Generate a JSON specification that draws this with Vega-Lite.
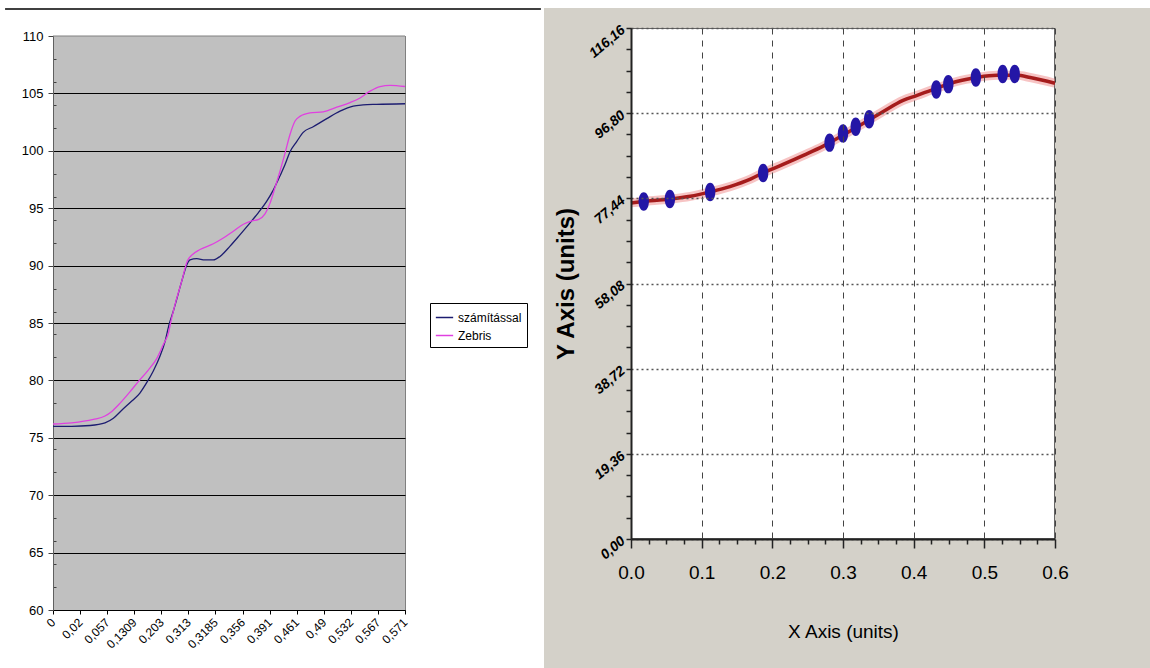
{
  "$schema": "https://vega.github.io/schema/vega-lite/v6.json",
  "background": "white",
  "autosize": {"type": "pad"},
  "padding": {"left": 3, "top": 7, "right": 0, "bottom": 0},
  "spacing": 0,
  "datasets": {
    "excel": [
      {"s": "számítással", "i": 0, "v": 76.0},
      {"s": "számítással", "i": 0.69, "v": 76.0},
      {"s": "számítással", "i": 1.37, "v": 76.07},
      {"s": "számítással", "i": 1.92, "v": 76.3},
      {"s": "számítással", "i": 2.23, "v": 76.7},
      {"s": "számítással", "i": 2.54, "v": 77.4},
      {"s": "számítással", "i": 2.91, "v": 78.2},
      {"s": "számítással", "i": 3.21, "v": 78.9},
      {"s": "számítással", "i": 3.46, "v": 79.8},
      {"s": "számítással", "i": 3.7, "v": 80.8},
      {"s": "számítással", "i": 3.95, "v": 82.1},
      {"s": "számítással", "i": 4.14, "v": 83.4},
      {"s": "számítással", "i": 4.29, "v": 84.9},
      {"s": "számítással", "i": 4.44, "v": 86.0},
      {"s": "számítással", "i": 4.56, "v": 87.0},
      {"s": "számítással", "i": 4.75, "v": 88.6},
      {"s": "számítással", "i": 4.94, "v": 90.06},
      {"s": "számítással", "i": 5.06, "v": 90.5},
      {"s": "számítással", "i": 5.31, "v": 90.6},
      {"s": "számítással", "i": 5.61, "v": 90.5},
      {"s": "számítással", "i": 5.92, "v": 90.5},
      {"s": "számítással", "i": 6.17, "v": 90.8},
      {"s": "számítással", "i": 6.54, "v": 91.7},
      {"s": "számítással", "i": 6.91, "v": 92.7},
      {"s": "számítással", "i": 7.27, "v": 93.7},
      {"s": "számítással", "i": 7.58, "v": 94.6},
      {"s": "számítással", "i": 7.89, "v": 95.6},
      {"s": "számítással", "i": 8.14, "v": 96.6},
      {"s": "számítással", "i": 8.38, "v": 97.8},
      {"s": "számítással", "i": 8.57, "v": 98.8},
      {"s": "számítással", "i": 8.75, "v": 99.9},
      {"s": "számítással", "i": 9.0, "v": 100.8},
      {"s": "számítással", "i": 9.24, "v": 101.6},
      {"s": "számítással", "i": 9.61, "v": 102.1},
      {"s": "számítással", "i": 10.11, "v": 102.8},
      {"s": "számítással", "i": 10.6, "v": 103.45},
      {"s": "számítással", "i": 11.09, "v": 103.9},
      {"s": "számítással", "i": 11.45, "v": 104.0},
      {"s": "számítással", "i": 11.95, "v": 104.05},
      {"s": "számítással", "i": 13.0, "v": 104.1},
      {"s": "Zebris", "i": 0, "v": 76.2},
      {"s": "Zebris", "i": 0.69, "v": 76.3},
      {"s": "Zebris", "i": 1.49, "v": 76.6},
      {"s": "Zebris", "i": 1.92, "v": 76.9},
      {"s": "Zebris", "i": 2.17, "v": 77.3},
      {"s": "Zebris", "i": 2.47, "v": 78.0},
      {"s": "Zebris", "i": 2.84, "v": 79.0},
      {"s": "Zebris", "i": 3.15, "v": 79.9},
      {"s": "Zebris", "i": 3.52, "v": 80.9},
      {"s": "Zebris", "i": 3.83, "v": 81.9},
      {"s": "Zebris", "i": 4.07, "v": 83.1},
      {"s": "Zebris", "i": 4.26, "v": 84.1},
      {"s": "Zebris", "i": 4.38, "v": 85.4},
      {"s": "Zebris", "i": 4.54, "v": 86.9},
      {"s": "Zebris", "i": 4.75, "v": 88.6},
      {"s": "Zebris", "i": 4.96, "v": 90.4},
      {"s": "Zebris", "i": 5.12, "v": 90.9},
      {"s": "Zebris", "i": 5.43, "v": 91.4},
      {"s": "Zebris", "i": 5.92, "v": 91.9},
      {"s": "Zebris", "i": 6.29, "v": 92.4},
      {"s": "Zebris", "i": 6.66, "v": 93.0},
      {"s": "Zebris", "i": 7.03, "v": 93.6},
      {"s": "Zebris", "i": 7.34, "v": 93.9},
      {"s": "Zebris", "i": 7.58, "v": 94.0},
      {"s": "Zebris", "i": 7.83, "v": 94.5},
      {"s": "Zebris", "i": 8.01, "v": 95.4},
      {"s": "Zebris", "i": 8.2, "v": 96.8},
      {"s": "Zebris", "i": 8.38, "v": 98.2},
      {"s": "Zebris", "i": 8.57, "v": 99.8},
      {"s": "Zebris", "i": 8.75, "v": 101.4},
      {"s": "Zebris", "i": 8.94, "v": 102.6},
      {"s": "Zebris", "i": 9.12, "v": 103.0},
      {"s": "Zebris", "i": 9.49, "v": 103.3},
      {"s": "Zebris", "i": 9.98, "v": 103.4},
      {"s": "Zebris", "i": 10.48, "v": 103.8},
      {"s": "Zebris", "i": 10.97, "v": 104.2},
      {"s": "Zebris", "i": 11.34, "v": 104.6},
      {"s": "Zebris", "i": 11.71, "v": 105.2},
      {"s": "Zebris", "i": 12.08, "v": 105.6},
      {"s": "Zebris", "i": 12.45, "v": 105.7},
      {"s": "Zebris", "i": 13.0, "v": 105.6}
    ],
    "fit": [
      {"x": 0, "y": 76.4}, {"x": 0.027, "y": 76.9}, {"x": 0.056, "y": 77.3},
      {"x": 0.084, "y": 77.9}, {"x": 0.112, "y": 78.9}, {"x": 0.14, "y": 80.1},
      {"x": 0.169, "y": 81.8}, {"x": 0.188, "y": 83.3}, {"x": 0.216, "y": 85.2},
      {"x": 0.244, "y": 87.2}, {"x": 0.272, "y": 89.3}, {"x": 0.301, "y": 91.9},
      {"x": 0.329, "y": 94.5}, {"x": 0.357, "y": 97.2}, {"x": 0.385, "y": 99.7},
      {"x": 0.404, "y": 100.8}, {"x": 0.433, "y": 102.5}, {"x": 0.461, "y": 104.0},
      {"x": 0.489, "y": 104.9}, {"x": 0.518, "y": 105.4}, {"x": 0.546, "y": 105.4},
      {"x": 0.565, "y": 104.9}, {"x": 0.6, "y": 103.6}
    ],
    "pts": [
      {"x": 0.018, "y": 76.7}, {"x": 0.055, "y": 77.3}, {"x": 0.112, "y": 78.9},
      {"x": 0.187, "y": 83.2}, {"x": 0.281, "y": 90.1}, {"x": 0.3, "y": 92.2},
      {"x": 0.318, "y": 93.7}, {"x": 0.337, "y": 95.4}, {"x": 0.432, "y": 102.2},
      {"x": 0.449, "y": 103.4}, {"x": 0.488, "y": 104.9}, {"x": 0.526, "y": 105.7},
      {"x": 0.543, "y": 105.7}
    ]
  },
  "hconcat": [
    {
      "width": 352,
      "height": 582,
      "view": {"fill": "#c0c0c0", "stroke": "#808080", "strokeWidth": 1},
      "layer": [
        {
          "data": {"name": "excel"},
          "mark": {"type": "line", "interpolate": "monotone", "strokeWidth": 1.3},
          "encoding": {
            "x": {
              "field": "i", "type": "quantitative",
              "scale": {"domain": [0, 13], "nice": false, "zero": false},
              "axis": {
                "title": null,
                "values": [0, 1, 2, 3, 4, 5, 6, 7, 8, 9, 10, 11, 12, 13],
                "tickCount": 100,
                "labelExpr": "['0','0,02','0,057','0,1309','0,203','0,313','0,3185','0,356','0,391','0,461','0,49','0,532','0,567','0,571'][datum.value]",
                "labelAngle": -45, "labelAlign": "right", "labelBaseline": "middle",
                "labelPadding": 6, "labelFontSize": 12, "labelFont": "Liberation Sans",
                "labelColor": "black", "labelOverlap": false, "labelFlush": false,
                "tickSize": 4, "tickColor": "black", "domainColor": "black", "grid": false
              }
            },
            "y": {
              "field": "v", "type": "quantitative",
              "scale": {"domain": [60, 110.697], "nice": false, "zero": false},
              "axis": {
                "title": null,
                "values": [60, 62, 64, 65, 66, 68, 70, 72, 74, 75, 76, 78, 80, 82, 84, 85, 86, 88, 90, 92, 94, 95, 96, 98, 100, 102, 104, 105, 106, 108, 110],
                "tickCount": 100,
                "labelExpr": "datum.value % 5 === 0 ? format(datum.value, 'd') : ''",
                "tickSize": {"condition": {"test": "datum.value % 5 === 0", "value": 5}, "value": -3},
                "gridColor": {"condition": {"test": "datum.value % 5 === 0 && datum.value < 110", "value": "black"}, "value": "transparent"},
                "grid": true, "gridWidth": 1,
                "domainColor": "#606060", "tickColor": "#404040",
                "labelFontSize": 13, "labelFont": "Liberation Sans", "labelColor": "black",
                "labelPadding": 5, "labelOverlap": false, "labelFlush": false
              }
            },
            "color": {
              "field": "s", "type": "nominal",
              "scale": {"domain": ["számítással", "Zebris"], "range": ["#1c1c70", "#e040e0"]},
              "legend": {
                "title": null, "orient": "none", "legendX": 377, "legendY": 275,
                "strokeColor": "black", "fillColor": "white", "padding": 5,
                "symbolType": "stroke", "symbolSize": 300, "symbolStrokeWidth": 1.5,
                "labelFontSize": 12, "labelFont": "Liberation Sans", "labelColor": "black",
                "rowPadding": 2, "labelOffset": 4
              }
            }
          }
        },
        {
          "data": {"values": [{}]},
          "mark": {"type": "rect", "color": "white"},
          "encoding": {
            "x": {"datum": -0.03, "type": "quantitative", "scale": {"domain": [0, 13], "nice": false, "zero": false}},
            "x2": {"datum": 13.04},
            "y": {"datum": 110, "type": "quantitative", "scale": {"domain": [60, 110.697], "nice": false, "zero": false}},
            "y2": {"datum": 110.76}
          }
        },
        {
          "data": {"values": [{}]},
          "mark": {"type": "rule", "color": "#808080", "strokeWidth": 1},
          "encoding": {
            "x": {"datum": 0, "type": "quantitative", "scale": {"domain": [0, 13], "nice": false, "zero": false}},
            "x2": {"datum": 13},
            "y": {"datum": 110, "type": "quantitative", "scale": {"domain": [60, 110.697], "nice": false, "zero": false}}
          }
        },
        {
          "data": {"values": [{}]},
          "mark": {"type": "rule", "color": "black", "strokeWidth": 1.5},
          "encoding": {
            "x": {"datum": -1.77, "type": "quantitative", "scale": {"domain": [0, 13], "nice": false, "zero": false}},
            "x2": {"datum": 18.02},
            "y": {"datum": 112.35, "type": "quantitative", "scale": {"domain": [60, 110.697], "nice": false, "zero": false}}
          }
        }
      ]
    },
    {
      "width": 424,
      "height": 511,
      "view": {"fill": "white", "stroke": "#333333", "strokeWidth": 1.5},
      "layer": [
        {
          "data": {"values": [{}]},
          "mark": {"type": "rect", "color": "#d4d1c9"},
          "encoding": {
            "x": {"datum": -0.1231, "type": "quantitative", "scale": {"domain": [0, 0.6], "nice": false, "zero": false}},
            "x2": {"datum": 0},
            "y": {"datum": -31, "type": "quantitative", "scale": {"domain": [0, 116.16], "nice": false, "zero": false}},
            "y2": {"datum": 120.71}
          }
        },
        {
          "data": {"values": [{}]},
          "mark": {"type": "rect", "color": "#d4d1c9"},
          "encoding": {
            "x": {"datum": 0.6, "type": "quantitative", "scale": {"domain": [0, 0.6], "nice": false, "zero": false}},
            "x2": {"datum": 0.74},
            "y": {"datum": -31, "type": "quantitative", "scale": {"domain": [0, 116.16], "nice": false, "zero": false}},
            "y2": {"datum": 120.71}
          }
        },
        {
          "data": {"values": [{}]},
          "mark": {"type": "rect", "color": "#d4d1c9"},
          "encoding": {
            "x": {"datum": 0, "type": "quantitative", "scale": {"domain": [0, 0.6], "nice": false, "zero": false}},
            "x2": {"datum": 0.6},
            "y": {"datum": 116.16, "type": "quantitative", "scale": {"domain": [0, 116.16], "nice": false, "zero": false}},
            "y2": {"datum": 120.71}
          }
        },
        {
          "data": {"values": [{}]},
          "mark": {"type": "rect", "color": "#d4d1c9"},
          "encoding": {
            "x": {"datum": 0, "type": "quantitative", "scale": {"domain": [0, 0.6], "nice": false, "zero": false}},
            "x2": {"datum": 0.6},
            "y": {"datum": -31, "type": "quantitative", "scale": {"domain": [0, 116.16], "nice": false, "zero": false}},
            "y2": {"datum": 0}
          }
        },
        {
          "data": {"name": "fit"},
          "mark": {"type": "line", "interpolate": "monotone", "color": "#f08a8a", "opacity": 0.5, "strokeWidth": 9},
          "encoding": {
            "x": {"field": "x", "type": "quantitative", "scale": {"domain": [0, 0.6], "nice": false, "zero": false}},
            "y": {"field": "y", "type": "quantitative", "scale": {"domain": [0, 116.16], "nice": false, "zero": false}}
          }
        },
        {
          "data": {"name": "fit"},
          "mark": {"type": "line", "interpolate": "monotone", "color": "#a51c1c", "strokeWidth": 3.5},
          "encoding": {
            "x": {
              "field": "x", "type": "quantitative",
              "scale": {"domain": [0, 0.6], "nice": false, "zero": false},
              "axis": {
                "title": "X Axis (units)",
                "values": [0, 0.025, 0.05, 0.075, 0.1, 0.125, 0.15, 0.175, 0.2, 0.225, 0.25, 0.275, 0.3, 0.325, 0.35, 0.375, 0.4, 0.425, 0.45, 0.475, 0.5, 0.525, 0.55, 0.575, 0.6],
                "tickCount": 100,
                "labelExpr": "abs(datum.value*10 - round(datum.value*10)) < 0.001 ? format(datum.value, '.1f') : ''",
                "tickSize": {"condition": {"test": "abs(datum.value*10 - round(datum.value*10)) < 0.001", "value": 9}, "value": 5},
                "grid": true,
                "gridColor": {"condition": {"test": "abs(datum.value*10 - round(datum.value*10)) < 0.001", "value": "#444444"}, "value": "transparent"},
                "gridDash": [6, 6], "gridWidth": 1,
                "domainColor": "#222222", "domainWidth": 2, "tickColor": "#222222", "tickWidth": 1.5,
                "labelFont": "Liberation Sans",
                "labelFontSize": 19, "labelColor": "black", "labelPadding": 15, "labelOverlap": false, "labelFlush": false,
                "titleFont": "Liberation Sans",
                "titleFontSize": 19, "titleFontWeight": "normal", "titleColor": "black", "titlePadding": 40,
                "zindex": 1
              }
            },
            "y": {
              "field": "y", "type": "quantitative",
              "scale": {"domain": [0, 116.16], "nice": false, "zero": false},
              "axis": {
                "title": "Y Axis (units)",
                "values": [0, 4.84, 9.68, 14.52, 19.36, 24.2, 29.04, 33.88, 38.72, 43.56, 48.4, 53.24, 58.08, 62.92, 67.76, 72.6, 77.44, 82.28, 87.12, 91.96, 96.8, 101.64, 106.48, 111.32, 116.16],
                "tickCount": 100,
                "labelExpr": "abs(datum.value/19.36 - round(datum.value/19.36)) < 0.001 ? replace(format(datum.value, '.2f'), '.', ',') : ''",
                "tickSize": 5,
                "grid": true,
                "gridColor": {"condition": {"test": "abs(datum.value/19.36 - round(datum.value/19.36)) < 0.001", "value": "#555555"}, "value": "transparent"},
                "gridDash": [2, 3], "gridWidth": 1.5,
                "domainColor": "#222222", "domainWidth": 2, "tickColor": "#222222", "tickWidth": 1.5,
                "labelAngle": -40, "labelAlign": "right", "labelBaseline": "middle",
                "labelFont": "Liberation Sans", "labelFontStyle": "italic", "labelFontWeight": "bold", "labelFontSize": 14,
                "labelColor": "black", "labelPadding": 3, "labelOverlap": false, "labelFlush": false,
                "titleFont": "Liberation Sans", "titleFontSize": 24, "titleFontWeight": "bold",
                "titleColor": "black", "titlePadding": 8,
                "zindex": 1
              }
            }
          }
        },
        {
          "data": {"name": "pts"},
          "mark": {"type": "point", "shape": "M0,-1C0.75,-1 0.75,1 0,1C-0.75,1 -0.75,-1 0,-1Z", "filled": true, "size": 340, "color": "#2416a6", "opacity": 1},
          "encoding": {
            "x": {"field": "x", "type": "quantitative", "scale": {"domain": [0, 0.6], "nice": false, "zero": false}},
            "y": {"field": "y", "type": "quantitative", "scale": {"domain": [0, 116.16], "nice": false, "zero": false}}
          }
        }
      ]
    }
  ]
}
